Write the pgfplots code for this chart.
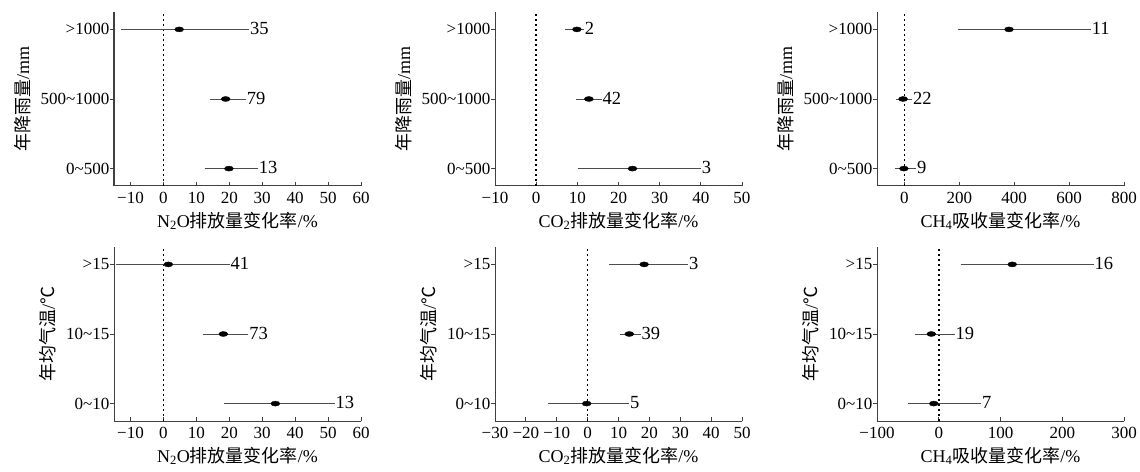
\documentclass[border=0pt]{standalone}
\usepackage{fontspec}
\setmainfont{Liberation Serif}
\newfontfamily\cjk{Noto Sans CJK SC}
\usepackage{pgfplots}
\usepackage{pgfplotstable}
\pgfplotsset{compat=1.18}

\pgfplotstableread{
y m lo hi n
2 4.8 -12.4 25.5 35
1 18.9 14.6 24.5 79
0 19.9 13.0 28.2 13
}\tabA
\pgfplotstableread{
y m lo hi n
2 9.9 7.5 11.2 2
1 12.8 10.0 15.5 42
0 23.4 10.5 39.6 3
}\tabB
\pgfplotstableread{
y m lo hi n
2 381 202 673 11
1 -5 -23 22 22
0 -2 -30 36 9
}\tabC
\pgfplotstableread{
y m lo hi n
2 1.5 -14 19.6 41
1 18.2 12.4 25.3 73
0 34 18.9 51.5 13
}\tabD
\pgfplotstableread{
y m lo hi n
2 18.3 7.5 32 3
1 13.5 11 16.6 39
0 -0.3 -12.4 12.9 5
}\tabE
\pgfplotstableread{
y m lo hi n
2 119 38 248 16
1 -12 -35 23 19
0 -8 -47 66 7
}\tabF

\pgfplotsset{
 fp/.style={width=247pt,height=174pt,scale only axis,
  axis x line*=bottom, axis y line*=left,
  ymin=-0.25,ymax=2.25, ytick={0,1,2},
  xtick align=inside, ytick align=outside, major tick length=4pt,
  tick style={black!75, line width=0.8pt},
  axis line style={black!75, line width=1pt},
  tick label style={font=\fontsize{17}{19}\selectfont},
  yticklabel style={inner sep=0.5pt},
  xticklabel style={yshift=-3pt},
  label style={font=\fontsize{18}{20}\selectfont},
  ylabel style={yshift=6pt},
  xlabel style={yshift=-1pt},
  clip=false, anchor=south west},
 rain/.style={yticklabels={0\textasciitilde500, 500\textasciitilde1000, >1000}, ylabel={{\cjk 年降雨量}/mm}},
 temp/.style={yticklabels={0\textasciitilde10, 10\textasciitilde15, >15}, ylabel={{\cjk 年均气温}/{\cjk ℃}}},
}

\newcommand\panel[1]{%
 \addplot[black, line width=1.7pt, dash pattern=on 1.7pt off 3.3pt] coordinates {(0,-0.25) (0,2.25)};
 \addplot[only marks, mark=*, mark size=2.5pt, mark options={xscale=1.8, fill=black, draw=black},
   error bars/.cd, x dir=both, x explicit,
   error bar style={line width=0.7pt, black!70},
   error mark options={line width=0.7pt, black!70, mark size=1.7pt}]
   table[x=m, y=y, x error plus expr=\thisrow{hi}-\thisrow{m}, x error minus expr=\thisrow{m}-\thisrow{lo}] {#1};
 \addplot[draw=none, nodes near coords, point meta=explicit symbolic,
   nodes near coords style={anchor=west, font=\fontsize{18.5}{20}\selectfont, inner sep=2.5pt, yshift=1pt, black}]
   table[x=hi, y=y, meta=n] {#1};
}

\begin{document}
\begin{tikzpicture}
\useasboundingbox (0,0) rectangle (1140pt,471pt);
\begin{axis}[fp, rain, at={(114pt,285pt)}, xmin=-15, xmax=60,
  xtick={-10,0,10,20,30,40,50,60}, xticklabels={−10,0,10,20,30,40,50,60},
  xlabel={N\textsubscript{2}O{\cjk 排放量变化率}/\%}]
\panel{\tabA}
\end{axis}
\begin{axis}[fp, rain, at={(495pt,285pt)}, xmin=-10, xmax=50,
  xtick={-10,0,10,20,30,40,50}, xticklabels={−10,0,10,20,30,40,50},
  xlabel={CO\textsubscript{2}{\cjk 排放量变化率}/\%}]
\panel{\tabB}
\end{axis}
\begin{axis}[fp, rain, at={(877pt,285pt)}, xmin=-100, xmax=800,
  xtick={0,200,400,600,800}, xticklabels={0,200,400,600,800},
  xlabel={CH\textsubscript{4}{\cjk 吸收量变化率}/\%}]
\panel{\tabC}
\end{axis}
\begin{axis}[fp, temp, at={(114pt,50pt)}, xmin=-15, xmax=60,
  xtick={-10,0,10,20,30,40,50,60}, xticklabels={−10,0,10,20,30,40,50,60},
  xlabel={N\textsubscript{2}O{\cjk 排放量变化率}/\%}]
\panel{\tabD}
\end{axis}
\begin{axis}[fp, temp, at={(495pt,50pt)}, xmin=-30, xmax=50,
  xtick={-30,-20,-10,0,10,20,30,40,50}, xticklabels={−30,−20,−10,0,10,20,30,40,50},
  xlabel={CO\textsubscript{2}{\cjk 排放量变化率}/\%}]
\panel{\tabE}
\end{axis}
\begin{axis}[fp, temp, at={(877pt,50pt)}, xmin=-100, xmax=300,
  xtick={-100,0,100,200,300}, xticklabels={−100,0,100,200,300},
  xlabel={CH\textsubscript{4}{\cjk 吸收量变化率}/\%}]
\panel{\tabF}
\end{axis}
\end{tikzpicture}
\end{document}
